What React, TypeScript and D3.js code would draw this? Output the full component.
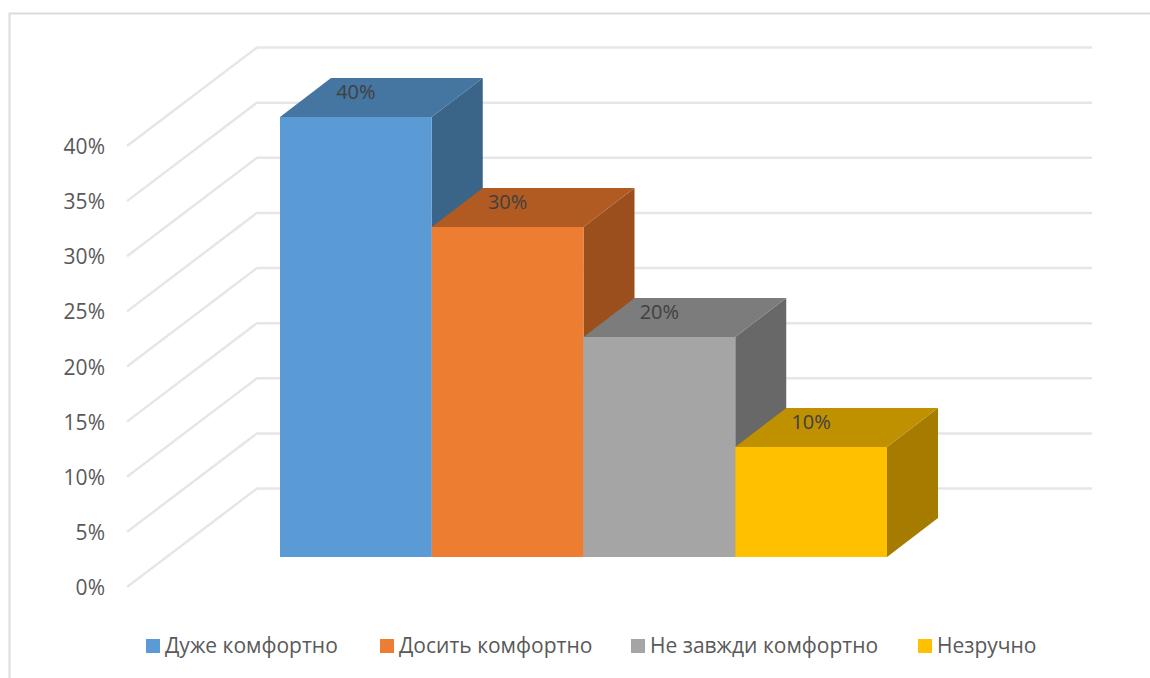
import * as d3 from 'd3';

const categories = ['Дуже комфортно', 'Досить комфортно', 'Не завжди комфортно', 'Незручно'];
const values = [40, 30, 20, 10];
const ticks = [0, 5, 10, 15, 20, 25, 30, 35, 40];
const frontColors = ['#5b9bd5', '#ed7d31', '#a5a5a5', '#ffc000'];
const topColors = ['#4575a1', '#b15b22', '#7c7c7c', '#bf9000'];
const sideColors = ['#3a6488', '#9a4f1c', '#686868', '#a57c00'];
const legendSwatchX = [146, 380, 631, 918];

const FONT = '"Open Sans", "Noto Sans", sans-serif';
const depthX = 51;
const depthY = 39;

const x = d3.scaleBand<string>().domain(categories).range([280, 887]);
const yFront = d3.scaleLinear().domain([0, 40]).range([557, 117]);
const yWall = d3.scaleLinear().domain([0, 40]).range([488.5, 47.5]);
const yFloor = d3.scaleLinear().domain([0, 40]).range([587, 146]);

const poly = d3.line<[number, number]>();

export default function App() {
  const w = x.bandwidth();
  return (
    <svg
      width={1150}
      height={678}
      style={{ position: 'absolute', left: 0, top: 0, display: 'block' }}
      fontFamily={FONT}
    >
      <rect width={1150} height={678} fill="#fff" />
      <path d="M9.5,678V13.5H1150" fill="none" stroke="#dcdcdc" strokeWidth={2} />

      {ticks.map((t) => (
        <g key={t}>
          <path
            d={poly([[127, yFloor(t)], [257, yWall(t)], [1092, yWall(t)]]) ?? ''}
            fill="none"
            stroke="#e6e6e6"
            strokeWidth={2.5}
          />
          <text x={105} y={yFloor(t) + 8} textAnchor="end" fontSize={21} fill="#595959">
            {t}%
          </text>
        </g>
      ))}

      {categories.map((c, i) => {
        const x0 = x(c)!;
        const x1 = x0 + w;
        const top = yFront(values[i]);
        const bottom = yFront(0);
        return (
          <g key={c}>
            <path
              d={poly([[x1, top], [x1 + depthX, top - depthY], [x1 + depthX, bottom - depthY], [x1, bottom]]) + 'Z'}
              fill={sideColors[i]}
            />
            <path
              d={poly([[x0, top], [x1, top], [x1 + depthX, top - depthY], [x0 + depthX, top - depthY]]) + 'Z'}
              fill={topColors[i]}
            />
            <rect x={x0} y={top} width={w} height={bottom - top} fill={frontColors[i]} />
          </g>
        );
      })}

      {categories.map((c, i) => (
        <text
          key={c}
          x={x(c)! + w / 2}
          y={yFront(values[i]) - 18.5}
          textAnchor="middle"
          fontSize={20}
          fill="#404040"
        >
          {values[i]}%
        </text>
      ))}

      {categories.map((c, i) => (
        <g key={c}>
          <rect x={legendSwatchX[i]} y={639} width={14} height={14} fill={frontColors[i]} />
          <text x={legendSwatchX[i] + 19} y={653} fontSize={21} fill="#595959">
            {c}
          </text>
        </g>
      ))}
    </svg>
  );
}
